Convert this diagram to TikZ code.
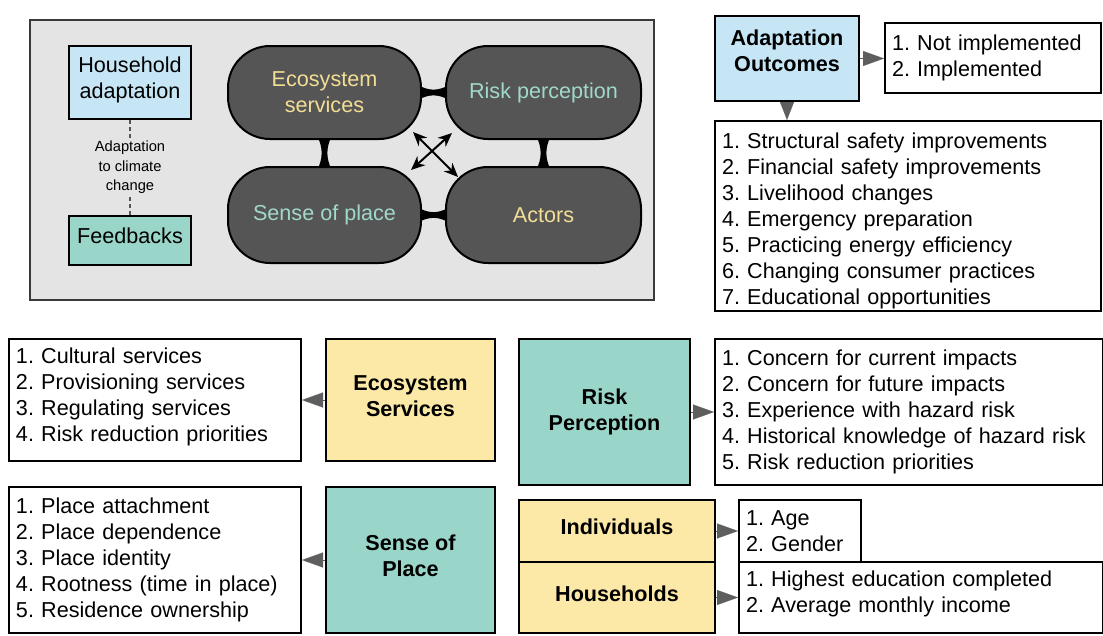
\documentclass[tikz,border=0pt]{standalone}
\usepackage{fontspec}
\setmainfont{Liberation Sans}
\usetikzlibrary{arrows.meta,calc}
\pgfdeclarelayer{panel}
\pgfdeclarelayer{links}
\pgfsetlayers{panel,links,main}

\definecolor{panelfill}{HTML}{E4E4E4}
\definecolor{paneledge}{HTML}{3A3A3A}
\definecolor{skyblue}{HTML}{C6E6F6}
\definecolor{seafoam}{HTML}{99D5C9}
\definecolor{sand}{HTML}{FDE9A7}
\definecolor{slate}{HTML}{555555}
\definecolor{goldtext}{HTML}{F3DE95}
\definecolor{minttext}{HTML}{A0D8CA}
\definecolor{tipgray}{HTML}{5E5E5E}
\definecolor{dashgray}{HTML}{555555}

\newcommand\bodyfont{\fontsize{21.6}{26}\selectfont}
\newcommand\notefont{\fontsize{14.7}{19.5}\selectfont}
% struts that nudge a text block down (first line) or up (last line)
\newcommand\downby[1]{\rule{0pt}{#1}}
\newcommand\upby[1]{\rule[-#1]{0pt}{#1}}
% waisted link between two facing node anchors: horizontal and vertical
\newcommand\hbond[2]{\fill ($(#1)+(-3,-7)$) .. controls ($(#1)+(7,-1.5)$) and ($(#2)+(-7,-1.5)$) .. ($(#2)+(3,-7)$)
  -- ($(#2)+(3,7)$) .. controls ($(#2)+(-7,1.5)$) and ($(#1)+(7,1.5)$) .. ($(#1)+(-3,7)$) -- cycle;}
\newcommand\vbond[2]{\fill ($(#1)+(-7,-3)$) .. controls ($(#1)+(-1.5,7)$) and ($(#2)+(-1.5,-7)$) .. ($(#2)+(-7,3)$)
  -- ($(#2)+(7,3)$) .. controls ($(#2)+(1.5,-7)$) and ($(#1)+(1.5,7)$) .. ($(#1)+(7,-3)$) -- cycle;}

\begin{document}
\frenchspacing
\begin{tikzpicture}[x=1pt, y=-1pt,
  box/.style={draw=black, line width=2pt, anchor=north west, inner sep=0pt,
    align=center, font=\bodyfont},
  title/.style={box, font=\bodyfont\bfseries},
  list/.style={draw=black, line width=2pt, fill=white, anchor=north west,
    inner xsep=7pt, inner ysep=0pt, align=left, font=\bodyfont},
  core/.style={draw=black, line width=2pt, fill=slate, rounded corners=42pt,
    anchor=north west, minimum height=93pt, inner sep=0pt, align=center,
    font=\bodyfont},
  cross/.style={line width=2pt,
    {Stealth[length=14pt,width=12pt]}-{Stealth[length=14pt,width=12pt]}},
  pointer/.style={draw=tipgray, line width=0.1pt, -{Triangle[length=21pt,width=15pt]}},
  dashlink/.style={draw=dashgray, line width=1.3pt, dash pattern=on 4pt off 3pt},
]
\useasboundingbox (0,0) rectangle (1103,635);

% conceptual model panel
\begin{pgfonlayer}{panel}
  \draw[fill=panelfill, draw=paneledge, line width=2.5pt] (30,20) rectangle (654,300);
\end{pgfonlayer}

\node[box, fill=skyblue, minimum width=122pt, minimum height=73pt] (hha) at (68,45) {Household\\adaptation\upby{9pt}};
\node[box, fill=seafoam, minimum width=122pt, minimum height=49pt] (fb) at (68,215) {Feedbacks\upby{10pt}};
\begin{pgfonlayer}{links}
  \draw[dashlink] (hha.south) -- (fb.north);
\end{pgfonlayer}
\node[fill=panelfill, inner sep=1pt, align=center, font=\notefont] (cc)
  at ($(hha.south)!0.5!(fb.north)$) {Adaptation\\to climate\\change};

\node[core, minimum width=193pt, text=goldtext] (eco) at (227,45) {Ecosystem\\services};
\node[core, minimum width=195pt, text=minttext] (risk) at (445,45) {Risk perception};
\node[core, minimum width=193pt, minimum height=96pt, text=minttext] (sense) at (227,166) {Sense of place};
\node[core, minimum width=195pt, minimum height=96pt, text=goldtext] (actors) at (445,166) {Actors};

\begin{pgfonlayer}{links}
  \hbond{eco.east}{risk.west}
  \hbond{sense.east}{actors.west}
  \vbond{eco.south}{sense.north}
  \vbond{risk.south}{actors.north}
\end{pgfonlayer}
\coordinate (ea) at ($(eco.south east)+(-9,-8)$);
\coordinate (ae) at ($(actors.north west)+(13,11)$);
\coordinate (rs) at ($(risk.south west)+(7,-7)$);
\coordinate (sr) at ($(sense.north east)+(-11,4)$);
\draw[cross] (ea) -- (ae);
\draw[cross] (rs) -- (sr);

% adaptation outcomes
\node[title, fill=skyblue, minimum width=144pt, minimum height=85pt] (ao) at (714,15) {Adaptation\\Outcomes\upby{15pt}};
\node[list, text width=202pt, minimum height=70pt] (ni) at (884,22) {1. Not implemented\\2. Implemented};
\node[list, text width=372pt, minimum height=190pt] (acts) at (714,120)
  {\downby{26pt}1. Structural safety improvements\\2. Financial safety improvements\\3. Livelihood changes\\4. Emergency preparation\\5. Practicing energy efficiency\\6. Changing consumer practices\\7. Educational opportunities};
\draw[pointer] (ao.east) -- (ao.east -| ni.west);
\draw[pointer, -{Triangle[length=18pt,width=14pt]}] (ao.south) -- (ao.south |- acts.north);

% ecosystem services and risk perception
\node[list, text width=278pt, minimum height=122pt] (esl) at (8,338)
  {1. Cultural services\\2. Provisioning services\\3. Regulating services\\4. Risk reduction priorities\upby{11pt}};
\node[title, fill=sand, minimum width=169pt, minimum height=122pt] (es) at (325,338) {Ecosystem\\Services\upby{7pt}};
\draw[pointer] (es.west) -- (esl.east);

\node[title, fill=seafoam, minimum width=171pt, minimum height=146pt] (rp) at (518,338) {Risk\\Perception};
\node[list, text width=374pt, minimum height=146pt] (rpl) at (714,338)
  {1. Concern for current impacts\\2. Concern for future impacts\\3. Experience with hazard risk\\4. Historical knowledge of hazard risk\\5. Risk reduction priorities};
\draw[pointer] (rp.east) -- (rpl.west);

% sense of place and actors
\node[list, text width=278pt, minimum height=146pt] (spl) at (8,486)
  {1. Place attachment\\2. Place dependence\\3. Place identity\\4. Rootness (time in place)\\5. Residence ownership};
\node[title, fill=seafoam, minimum width=169pt, minimum height=146pt] (sp) at (325,486) {Sense of\\Place\upby{8pt}};
\draw[pointer] (sp.west) -- (spl.east);

\node[title, fill=sand, minimum width=196pt, minimum height=62pt] (ind) at (518,499) {Individuals\upby{9pt}};
\node[title, fill=sand, minimum width=196pt, minimum height=71pt] (hou) at (518,561) {Households\upby{7pt}};
\node[list, text width=108pt, minimum height=62pt] (indl) at (738,499) {1. Age\\2. Gender};
\node[list, text width=350pt, minimum height=71pt] (houl) at (738,561)
  {1. Highest education completed\\2. Average monthly income\upby{11pt}};
\draw[pointer] (ind.east) -- (indl.west);
\draw[pointer] (hou.east) -- (houl.west);
\end{tikzpicture}
\end{document}
